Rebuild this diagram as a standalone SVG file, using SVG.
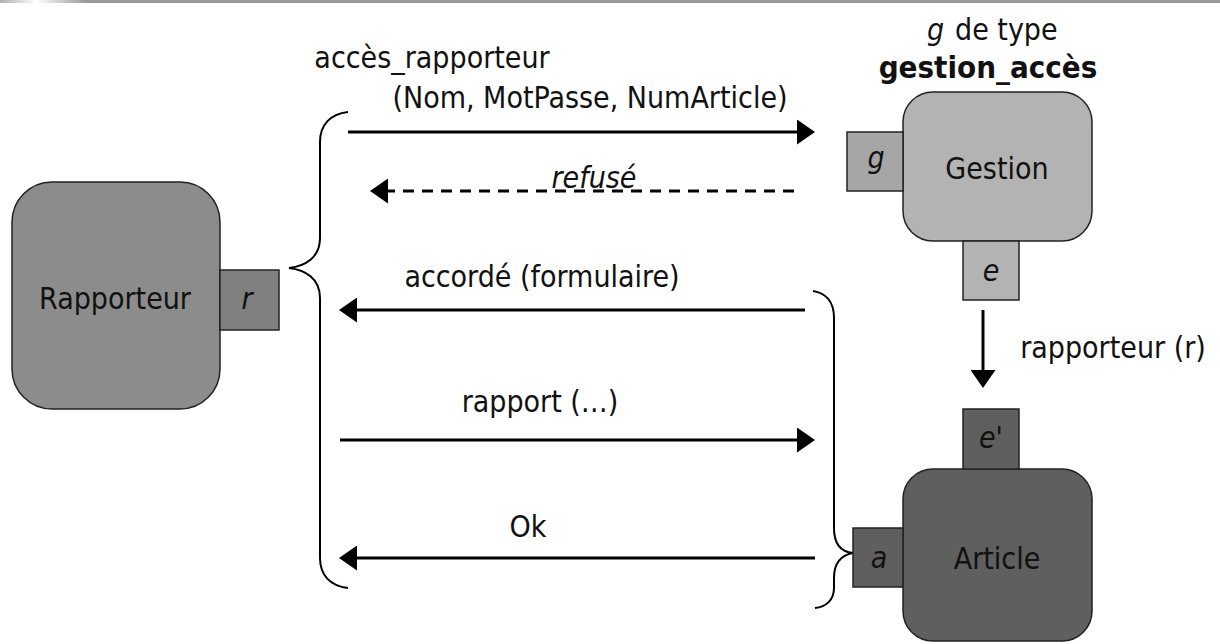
<svg xmlns="http://www.w3.org/2000/svg" width="1220" height="644" viewBox="0 0 1220 644">
<defs>
<linearGradient id="bar" x1="0" y1="0" x2="1220" y2="0" gradientUnits="userSpaceOnUse">
<stop offset="0" stop-color="#b0b0b0"/>
<stop offset="0.03" stop-color="#ffffff"/>
<stop offset="0.07" stop-color="#9a9a9a"/>
<stop offset="1" stop-color="#9a9a9a"/>
</linearGradient>
<marker id="ah" markerUnits="userSpaceOnUse" viewBox="0 0 18 25" refX="2" refY="12.5" markerWidth="18" markerHeight="25" orient="auto">
<path d="M0,0 L18,12.5 L0,25 z" fill="#000"/>
</marker>
</defs>
<style>
text{font-family:"DejaVu Sans Condensed","DejaVu Sans","Liberation Sans",sans-serif;font-stretch:condensed;font-size:30px;fill:#111}
.it{font-style:italic}
.b{font-weight:bold;font-size:31px}
.node{stroke:#222;stroke-width:1.5}
.port{stroke:#222;stroke-width:1.5}
.arr{stroke:#000;stroke-width:3;fill:none;marker-end:url(#ah)}
.dash{stroke-dasharray:11 8}
.brace{stroke:#000;stroke-width:2;fill:none}
</style>
<rect x="0" y="0" width="1220" height="3" fill="url(#bar)"/>

<g id="connectors">
<path class="brace" d="M348,112 C330,114 320,125 320,142 L320,238 C320,258 305,266 289,268 C305,270 320,278 320,298 L320,558 C320,575 330,586 348,588"/>
<path class="brace" d="M813,291 C826,293 834,302 834,318 L834,528 C834,545 842,552 853,553 C842,555 834,562 834,578 L834,588 C834,600 826,607 815,608"/>
<path class="arr" d="M348,132 L799,132"/>
<path class="arr dash" d="M794,191 L386,191"/>
<path class="arr" d="M805,310 L355,310"/>
<path class="arr" d="M340,440 L799,440"/>
<path class="arr" d="M815,558 L355,558"/>
<path class="arr" d="M983,310 L983,372"/>
<text x="432" y="68" text-anchor="middle">accès_rapporteur</text>
<text x="590" y="108" text-anchor="middle">(Nom, MotPasse, NumArticle)</text>
<text class="it" x="594" y="188" text-anchor="middle">refusé</text>
<text x="542" y="287" text-anchor="middle">accordé (formulaire)</text>
<text x="540" y="412" text-anchor="middle">rapport (…)</text>
<text x="528" y="537" text-anchor="middle">Ok</text>
<text x="1113" y="358" text-anchor="middle">rapporteur (r)</text>
</g>

<g id="rapporteur">
<rect class="node" x="12" y="182" width="208" height="227" rx="40" ry="40" fill="#8c8c8c"/>
<rect class="port" x="220" y="270" width="59" height="60" fill="#808080"/>
<text x="115" y="309" text-anchor="middle">Rapporteur</text>
<text class="it" x="247" y="309" text-anchor="middle">r</text>
</g>

<g id="gestion">
<text x="927" y="40"><tspan class="it">g</tspan><tspan x="955">de type</tspan></text>
<text class="b" x="988" y="78" text-anchor="middle">gestion_accès</text>
<rect class="node" x="903" y="92" width="189" height="149" rx="30" ry="30" fill="#b3b3b3"/>
<rect class="port" x="847" y="132" width="56" height="59" fill="#a6a6a6"/>
<rect class="port" x="963" y="241" width="56" height="59" fill="#b3b3b3"/>
<text x="997" y="179" text-anchor="middle">Gestion</text>
<text class="it" x="876" y="168" text-anchor="middle">g</text>
<text class="it" x="991" y="281" text-anchor="middle">e</text>
</g>

<g id="article">
<rect class="node" x="903" y="469" width="189" height="172" rx="30" ry="30" fill="#5f5f5f"/>
<rect class="port" x="963" y="409" width="56" height="60" fill="#5f5f5f"/>
<rect class="port" x="853" y="528" width="50" height="59" fill="#5f5f5f"/>
<text x="997" y="569" text-anchor="middle">Article</text>
<text class="it" x="991" y="448" text-anchor="middle">e'</text>
<text class="it" x="879" y="568" text-anchor="middle">a</text>
</g>
</svg>
